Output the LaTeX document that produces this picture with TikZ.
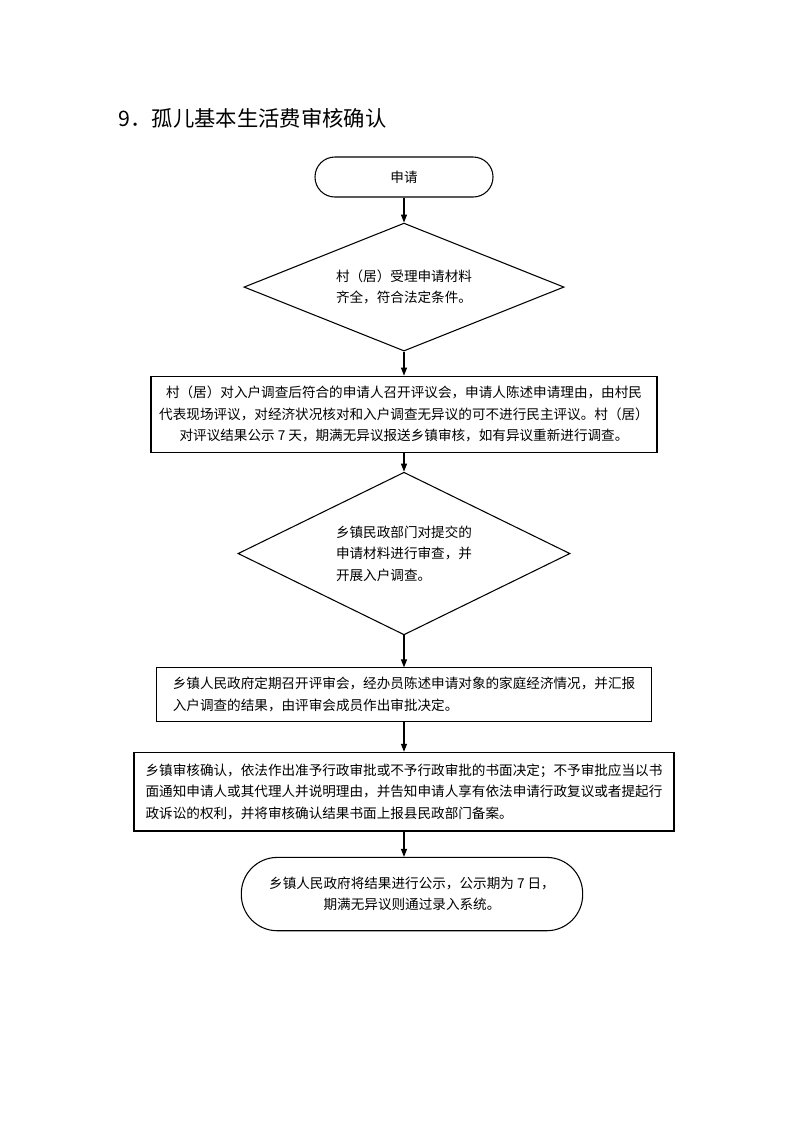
\documentclass[tikz,border=0pt]{standalone}
\usepackage{fontspec}
\setmainfont{Noto Sans CJK SC}
\usetikzlibrary{positioning, arrows.meta, shapes.geometric}

\begin{document}
\begin{tikzpicture}[
  x=0.75pt, y=0.75pt,
  every node/.style={draw, line width=0.8pt, inner sep=0pt, font=\fontsize{10.2}{16}\selectfont},
  terminal/.style={rounded corners=14.9pt, minimum width=133.5pt, minimum height=30pt},
  decision/.style={diamond, aspect=2.5, align=left},
  process/.style={rectangle},
  line width=0.8pt,
  ->, >={Triangle[length=6pt,width=4.5pt]}
]
\useasboundingbox (0,0) rectangle (794,-1122);

% Title
\node[draw=none, anchor=west, font=\fontsize{16}{16}\selectfont] (title) at (118,-118) {9．孤儿基本生活费审核确认};

% Steps
\node[terminal] (apply) at (404,-177) {申请};
\node[decision, below=18.75pt of apply, minimum width=240pt, minimum height=96pt] (accept) {村（居）受理申请材料\\齐全，符合法定条件。};
\node[process, below=18pt of accept, minimum width=379.5pt, minimum height=57pt, align=center] (hearing) {村（居）对入户调查后符合的申请人召开评议会，申请人陈述申请理由，由村民\\代表现场评议，对经济状况核对和入户调查无异议的可不进行民主评议。村（居）\\对评议结果公示 7 天，期满无异议报送乡镇审核，如有异议重新进行调查。};
\node[decision, below=14.25pt of hearing, minimum width=249pt, minimum height=122pt] (check) {乡镇民政部门对提交的\\申请材料进行审查，并\\开展入户调查。};
\node[process, below=24pt of check, minimum width=371pt, minimum height=40pt, align=left] (meeting) {乡镇人民政府定期召开评审会，经办员陈述申请对象的家庭经济情况，并汇报\\入户调查的结果，由评审会成员作出审批决定。};
\node[process, below=22.5pt of meeting, minimum width=405pt, minimum height=59pt, align=left] (confirm) {乡镇审核确认，依法作出准予行政审批或不予行政审批的书面决定；不予审批应当以书\\面通知申请人或其代理人并说明理由，并告知申请人享有依法申请行政复议或者提起行\\政诉讼的权利，并将审核确认结果书面上报县民政部门备案。};
\node[terminal, below=19pt of confirm, xshift=6pt, minimum width=256pt, minimum height=55pt, rounded corners=27pt, align=center] (publish) {乡镇人民政府将结果进行公示，公示期为 7 日，\\期满无异议则通过录入系统。};

% Connections
\draw (apply) -- (accept);
\draw (accept) -- (hearing);
\draw (hearing) -- (check);
\draw (check) -- (meeting);
\draw (meeting) -- (confirm);
\draw (confirm.south) -- (confirm.south |- publish.north);

\end{tikzpicture}
\end{document}
